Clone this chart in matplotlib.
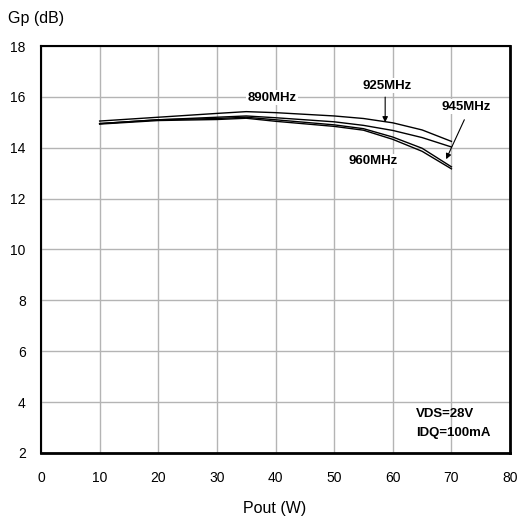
import matplotlib
matplotlib.use("Agg")
import matplotlib.pyplot as plt

plt.rcParams['font.family'] = ['Liberation Sans', 'DejaVu Sans']

pout = [10, 20, 30, 35, 40, 50, 55, 60, 65, 70]
gp_890 = [15.05, 15.2, 15.35, 15.42, 15.38, 15.25, 15.15, 14.98, 14.7, 14.25]
gp_925 = [14.95, 15.1, 15.2, 15.25, 15.18, 15.02, 14.88, 14.68, 14.4, 14.03]
gp_945 = [14.95, 15.1, 15.15, 15.2, 15.1, 14.9, 14.75, 14.42, 13.98, 13.25]
gp_960 = [14.93, 15.07, 15.11, 15.16, 15.04, 14.84, 14.69, 14.33, 13.86, 13.17]

fig = plt.figure(figsize=(5.21, 5.20), dpi=100)
ax = fig.add_axes([0.0787, 0.129, 0.9003, 0.7825])

for g in (gp_890, gp_925, gp_945, gp_960):
    ax.plot(pout, g, color='black', linewidth=1.0)

ax.set_xlim(0, 80)
ax.set_ylim(2, 18)
ax.set_xticks(range(0, 81, 10))
ax.set_yticks(range(2, 19, 2))
ax.grid(True, color='#b4b4b4', linewidth=1.0)
ax.tick_params(axis='y', length=0, labelsize=10, pad=11)
ax.tick_params(axis='x', length=0, labelsize=10, pad=13)
for s in ax.spines.values():
    s.set_linewidth(1.5)
ax.spines['right'].set_linewidth(2.0)
ax.spines['bottom'].set_linewidth(2.0)

fig.text(0.015, 0.965, 'Gp (dB)', fontsize=11.5, ha='left', va='center')
fig.text(0.528, 0.023, 'Pout (W)', fontsize=11.5, ha='center', va='center')

bb = dict(facecolor='white', edgecolor='none', pad=1)
kw = dict(fontsize=9.5, fontweight='bold', ha='center', va='center', bbox=bb)
ax.text(39.4, 15.97, '890MHz', **kw)
ax.text(59.0, 16.43, '925MHz', **kw)
ax.text(72.6, 15.62, '945MHz', **kw)
ax.text(56.7, 13.48, '960MHz', **kw)
arr = dict(arrowstyle='-|>', color='black', lw=0.8, mutation_scale=8)
ax.annotate('', xy=(58.7, 14.89), xytext=(58.7, 16.1), arrowprops=arr)
ax.annotate('', xy=(68.9, 13.45), xytext=(72.4, 15.2), arrowprops=arr)

ax.text(64.0, 3.55, 'VDS=28V', fontsize=9.5, fontweight='bold', ha='left', va='center')
ax.text(64.0, 2.8, 'IDQ=100mA', fontsize=9.5, fontweight='bold', ha='left', va='center')

fig.savefig('out.png', dpi=100)
